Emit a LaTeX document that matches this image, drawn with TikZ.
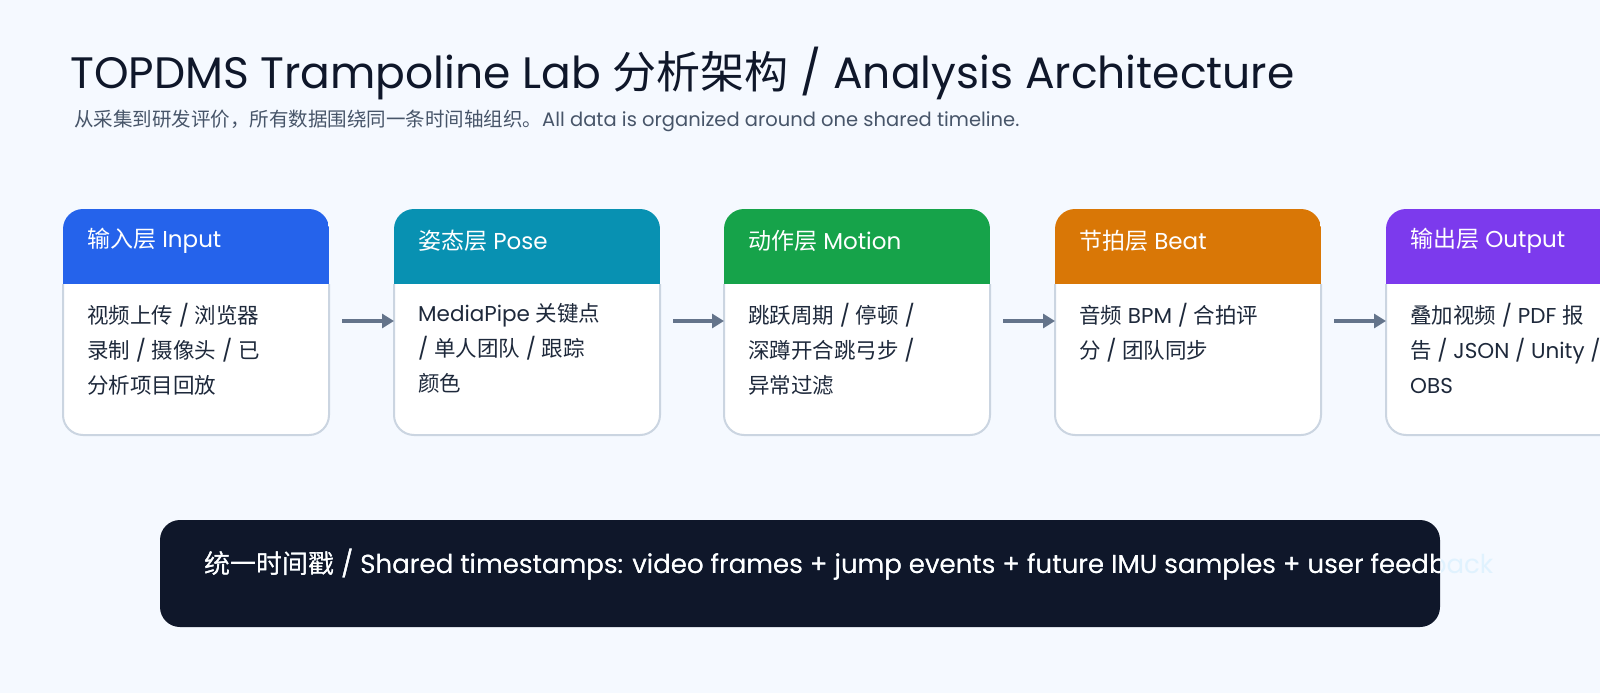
\documentclass[tikz,border=0pt]{standalone}
\usepackage{fontspec}
\setmainfont{Poppins}
\newfontfamily\cjk{Noto Sans CJK SC}
\usetikzlibrary{arrows.meta}
\definecolor{bg}{HTML}{F5F9FF}
\definecolor{bord}{HTML}{CBD5E1}
\definecolor{arr}{HTML}{64748B}
\definecolor{dark}{HTML}{0F172A}
\definecolor{sub}{HTML}{475569}
\definecolor{body}{HTML}{1E293B}
\definecolor{cA}{HTML}{2563EB}
\definecolor{cB}{HTML}{0891B2}
\definecolor{cC}{HTML}{16A34A}
\definecolor{cD}{HTML}{D97706}
\definecolor{cE}{HTML}{7C3AED}
\definecolor{pale}{HTML}{E0F2FE}
\tikzset{
 hdr/.style={anchor=west,text=white,font=\fontsize{23}{28}\selectfont,inner sep=0},
 bod/.style={anchor=north west,text=body,font=\fontsize{21.5}{35}\selectfont,align=left,inner sep=0},
 flow/.style={draw=arr,line width=4pt,-{Triangle[length=12pt,width=14pt]}}
}
\newcommand{\layerbox}[5]{%
 \begin{scope}[shift={(#1,0)}]
  \fill[white,rounded corners=20pt] (0,209) rectangle (266,435);
  \begin{scope}
   \clip[rounded corners=20pt] (0,209) rectangle (266,435);
   \fill[#2] (0,209) rectangle (266,284);
  \end{scope}
  \draw[bord,line width=2pt,rounded corners=20pt] (0,284) -- (0,435) -- (266,435) -- (266,284);
  \node[hdr] (#5h) at (24,241) {#3};
  \node[bod] (#5b) at (24,303) {#4};
 \end{scope}}
\begin{document}
\begin{tikzpicture}[x=1pt,y=-1pt]
\useasboundingbox (0,0) rectangle (1600,693);
\clip (0,0) rectangle (1600,693);
\fill[bg] (0,0) rectangle (1600,693);
\node[anchor=west,inner sep=0,text=dark,font=\fontsize{44}{50}\selectfont] (title) at (70,73)
 {TOPDMS Trampoline Lab {\cjk 分析架构} / Analysis Architecture};
\node[anchor=west,inner sep=0,text=sub,font=\fontsize{19.5}{24}\selectfont] (subt) at (74,121)
 {{\cjk 从采集到研发评价，所有数据围绕同一条时间轴组织。}All data is organized around one shared timeline.};
\layerbox{63}{cA}{{\cjk 输入层} Input}{{\cjk 视频上传} / {\cjk 浏览器}\\{\cjk 录制} / {\cjk 摄像头} / {\cjk 已}\\{\cjk 分析项目回放}}{l1}
\layerbox{394}{cB}{{\cjk 姿态层} Pose}{MediaPipe {\cjk 关键点}\\ / {\cjk 单人团队} / {\cjk 跟踪}\\{\cjk 颜色}}{l2}
\layerbox{724}{cC}{{\cjk 动作层} Motion}{{\cjk 跳跃周期} / {\cjk 停顿} /\\{\cjk 深蹲开合跳弓步} /\\{\cjk 异常过滤}}{l3}
\layerbox{1055}{cD}{{\cjk 节拍层} Beat}{{\cjk 音频} BPM / {\cjk 合拍评}\\{\cjk 分} / {\cjk 团队同步}}{l4}
\layerbox{1386}{cE}{{\cjk 输出层} Output}{{\cjk 叠加视频} / PDF {\cjk 报}\\{\cjk 告} / JSON / Unity /\\OBS}{l5}
\coordinate (a1) at (342,321); \coordinate (b1) at (394,321);
\coordinate (a2) at (673,321); \coordinate (b2) at (724,321);
\coordinate (a3) at (1003,321); \coordinate (b3) at (1055,321);
\coordinate (a4) at (1334,321); \coordinate (b4) at (1386,321);
\foreach \i in {1,2,3,4} \draw[flow] (a\i) -- (b\i);
\fill[dark,rounded corners=20pt] (160,520) rectangle (1440,627);
\def\bartext{{\cjk 统一时间戳} / Shared timestamps: video frames + jump events + future IMU samples + user feedback}
\node[anchor=west,inner sep=0,text=pale,font=\fontsize{26}{30}\selectfont] (bar) at (204,565) {\bartext};
\begin{scope}
 \clip (160,520) rectangle (1440,627);
 \node[anchor=west,inner sep=0,text=white,font=\fontsize{26}{30}\selectfont] (barw) at (204,565) {\bartext};
\end{scope}
\end{tikzpicture}
\end{document}
